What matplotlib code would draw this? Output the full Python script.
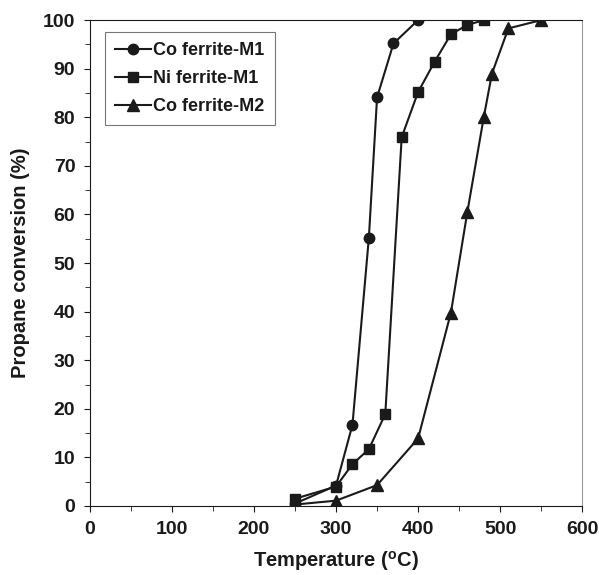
import matplotlib.pyplot as plt
from matplotlib.ticker import MultipleLocator

plt.rcParams['font.family'] = ['Liberation Sans', 'DejaVu Sans']
plt.rcParams['font.weight'] = 'bold'
plt.rcParams['mathtext.default'] = 'regular'

# Дані
temp_co_m1 = [250, 300, 320, 340, 350, 370, 400]
conv_co_m1 = [0.5, 4.2, 16.7, 55.2, 84.1, 95.2, 100]

temp_ni_m1 = [250, 300, 320, 340, 360, 380, 400, 420, 440, 460, 480]
conv_ni_m1 = [1.5, 4.0, 8.6, 11.7, 18.9, 75.9, 85.2, 91.4, 97.1, 99.0, 100]

temp_co_m2 = [250, 300, 350, 400, 440, 460, 480, 490, 510, 550]
conv_co_m2 = [0.3, 1.1, 4.3, 13.9, 39.8, 60.5, 80.0, 89.0, 98.3, 100]

labels = ['Co ferrite-M1', 'Ni ferrite-M1', 'Co ferrite-M2']

fig = plt.figure(figsize=(5.99, 5.75), dpi=100)
ax = fig.add_axes([0.150, 0.120, 0.822, 0.845])

c = '#1a1a1a'
ax.plot(temp_co_m1, conv_co_m1, color=c, lw=1.5, marker='o', ms=7.5, label=labels[0])
ax.plot(temp_ni_m1, conv_ni_m1, color=c, lw=1.5, marker='s', ms=7.5, label=labels[1])
ax.plot(temp_co_m2, conv_co_m2, color=c, lw=1.5, marker='^', ms=8.5, label=labels[2])

ax.set_xlim(0, 600)
ax.set_ylim(0, 100)
ax.xaxis.set_major_locator(MultipleLocator(100))
ax.xaxis.set_minor_locator(MultipleLocator(50))
ax.yaxis.set_major_locator(MultipleLocator(10))
ax.yaxis.set_minor_locator(MultipleLocator(5))
ax.tick_params(which='both', direction='out', top=False, right=False, labelsize=14,
               color=c, labelcolor=c)
ax.tick_params(which='major', length=4.5, pad=6)
ax.tick_params(which='minor', length=3.5)

for side in ['left', 'bottom', 'top']:
    ax.spines[side].set_color(c)
ax.spines['right'].set_color('#999999')
ax.spines['right'].set_linewidth(0.8)

ax.set_xlabel('Temperature ($^{o}$C)', fontsize=14.5, fontweight='bold', labelpad=8, color=c)
ax.set_ylabel('Propane conversion (%)', fontsize=14.5, fontweight='bold', labelpad=9, color=c)

leg = ax.legend(loc='upper left', bbox_to_anchor=(0.03, 0.975), fontsize=13,
                fancybox=False, edgecolor='#555555', handlelength=2.0,
                handletextpad=0.15, borderpad=0.55, labelspacing=0.6,
                borderaxespad=0.0)
leg.get_frame().set_linewidth(0.8)
for t in leg.get_texts():
    t.set_color(c)

plt.savefig('out.png', dpi=100)
